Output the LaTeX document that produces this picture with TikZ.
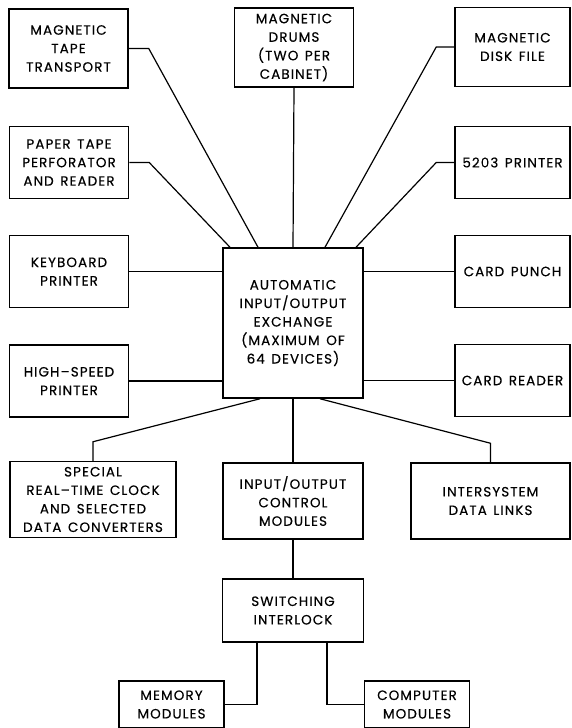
\documentclass[tikz,border=0pt]{standalone}
\usepackage{fontspec}
\setmainfont{Poppins}[FakeBold=0.35, LetterSpace=8, WordSpace=1.4]
\usetikzlibrary{positioning}

\begin{document}
\begin{tikzpicture}[
  x=1pt, y=-1pt,
  every node/.style={font=\fontsize{13.5}{18.5}\selectfont},
  box/.style={draw, line width=1.5pt, align=center, inner sep=0pt},
  tall/.style={box, minimum width=119pt, minimum height=79pt},
  dev/.style={box, minimum width=119pt, minimum height=72pt},
  lower/.style={box, minimum height=76pt},
  small/.style={box, minimum width=105pt, minimum height=47pt},
  link/.style={line width=1.2pt}
]
\useasboundingbox (0,0) rectangle (571,728);
% top row
\node[tall] (tape)  at (68.5, 48.5) {MAGNETIC\\TAPE\\TRANSPORT};
\node[tall] (drums) at (294, 47.5)  {MAGNETIC\\DRUMS\\(TWO PER\\CABINET)};
\node[tall, minimum width=115pt] (disk) at (512.5, 47) {MAGNETIC\\DISK FILE};
% side columns
\node[dev] (paper)    at (69, 162.5)   {PAPER TAPE\\PERFORATOR\\AND READER};
\node[dev, minimum width=115pt] (printer) at (512.5, 162.5) {5203 PRINTER};
\node[dev] (keyboard) at (69, 271.5)   {KEYBOARD\\PRINTER};
\node[dev, minimum width=115pt] (punch) at (512.5, 271.5) {CARD PUNCH};
\node[dev] (highspeed) at (69, 381)    {HIGH--SPEED\\PRINTER};
\node[dev, minimum width=115pt] (reader) at (512.5, 380.5) {CARD READER};
% exchange
\node[box, minimum width=140pt, minimum height=150pt] (exchange) at (293, 323)
  {AUTOMATIC\\INPUT/OUTPUT\\EXCHANGE\\(MAXIMUM OF\\64 DEVICES)};
% bottom row
\node[lower, minimum width=166pt] (special)  at (93, 499.5)
  {SPECIAL\\REAL--TIME CLOCK\\AND SELECTED\\DATA CONVERTERS};
\node[lower, minimum width=140pt] (ioctl)    at (293, 501) {INPUT/OUTPUT\\CONTROL\\MODULES};
\node[lower, minimum width=159pt] (intersys) at (490.5, 501) {INTERSYSTEM\\DATA LINKS};
\node[box, minimum width=141pt, minimum height=63pt] (switching) at (293, 610.5) {SWITCHING\\INTERLOCK};
\node[small] (memory)   at (171.5, 704.5) {MEMORY\\MODULES};
\node[small] (computer) at (417, 704.5)   {COMPUTER\\MODULES};
% connectors
\draw[link] (tape.east) -- ++(20,0) -- ([xshift=-35pt]exchange.north);
\draw[link] (paper.east) -- ++(20,0) -- ([xshift=-63pt]exchange.north);
\draw[link] (drums.south) -- (exchange.north);
\draw[link] (disk.west) -- ++(-18,0) -- ([xshift=32pt]exchange.north);
\draw[link] (printer.west) -- ++(-18,0) -- ([xshift=63pt]exchange.north);
\draw[link] (keyboard.east) -- (keyboard.east -| exchange.west);
\draw[link] (highspeed.east) -- (highspeed.east -| exchange.west);
\draw[link] (punch.west) -- (punch.west -| exchange.east);
\draw[link] (reader.west) -- (reader.west -| exchange.east);
\draw[link] ([xshift=-33pt]exchange.south) -- ([yshift=19pt]special.north) -- (special.north);
\draw[link] ([xshift=27pt]exchange.south) -- ([yshift=19pt]intersys.north) -- (intersys.north);
\draw[link] (exchange.south) -- (ioctl.north);
\draw[link] (ioctl.south) -- (switching.north);
\draw[link] ([xshift=-36pt]switching.south) |- (memory.east);
\draw[link] ([xshift=34pt]switching.south) |- (computer.west);
\end{tikzpicture}
\end{document}
